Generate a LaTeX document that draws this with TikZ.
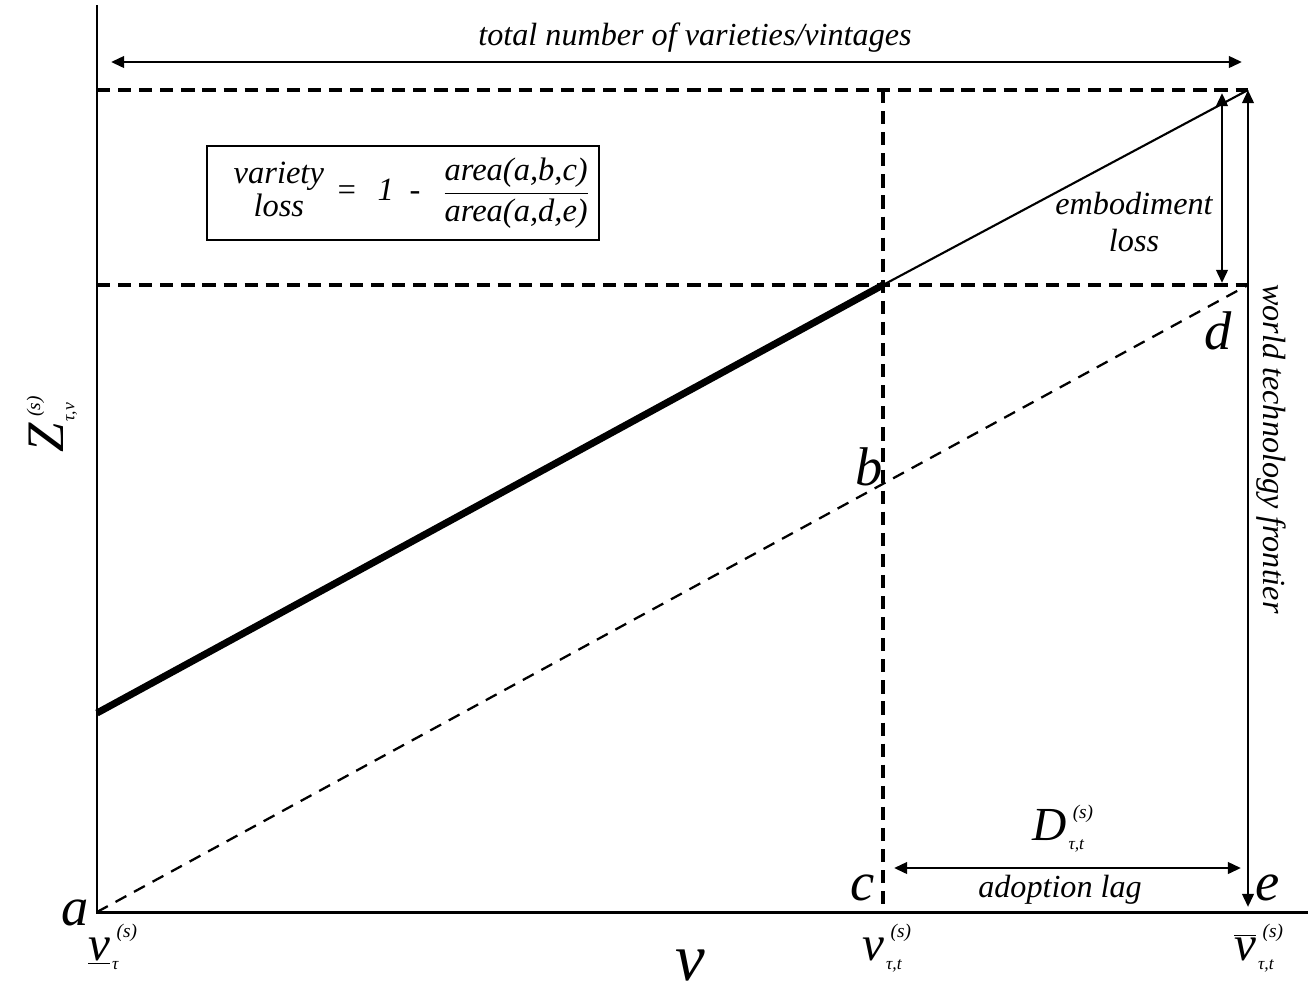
\documentclass[tikz,border=0pt]{standalone}
\usepackage{fontspec}
\setmainfont{Liberation Serif}
\usetikzlibrary{arrows.meta}
% stacked super- and subscript for the text-mode symbols
\newcommand{\supsub}[2]{\makebox[0pt][l]{\kern0.13em\raisebox{0.45em}{\fontsize{11}{11}\selectfont #1}}\kern0.04em\raisebox{-0.2em}{\fontsize{10}{10}\selectfont #2}}
\begin{document}
\begin{tikzpicture}[x=0.02cm, y=-0.02cm,
    axis/.style = {line width=1.7pt},
    guide/.style = {line width=1.8pt, dash pattern=on 7.5pt off 4.5pt},
    tip/.style = {line width=1.6pt, {Triangle[length=7.5pt,width=6.5pt]}-{Triangle[length=7.5pt,width=6.5pt]}},
    txt/.style = {font=\fontsize{18.3}{21}\selectfont\itshape, inner sep=0pt},
    pt/.style = {font=\fontsize{31}{31}\selectfont\itshape, inner sep=0pt, anchor=base},
    sym/.style = {font=\fontsize{28}{28}\selectfont\itshape, inner sep=0pt, anchor=base}]
    \useasboundingbox (0,0) rectangle (1312,992);
    % corners of the diagram
    \coordinate (a) at (97,912);
    \coordinate (ytop) at (97,5);
    \coordinate (xend) at (1308,912);
    \coordinate (c) at (883,912);
    \coordinate (ctop) at (883,90);
    \coordinate (k) at (883,285);
    \coordinate (topl) at (97,90);
    \coordinate (topr) at (1248,90);
    \coordinate (midl) at (97,285);
    \coordinate (d) at (1248,285);
    \coordinate (z0) at (97,713);
    \coordinate (etip) at (1248,907);
    \coordinate (el) at (1222,93);
    \coordinate (eb) at (1222,283);
    \coordinate (tl) at (111,62);
    \coordinate (tr) at (1242,62);
    \coordinate (ll) at (894,868);
    \coordinate (lr) at (1241,868);
    % lines
    \draw[guide] (topl) -- (topr);
    \draw[guide] (midl) -- (d);
    \draw[guide] (ctop) -- (c);
    \draw[line width=1.3pt, dash pattern=on 7pt off 5pt] (a) -- (d);
    \draw[line width=4pt] (z0) -- (k);
    \draw[line width=1.2pt] (k) -- (topr);
    \draw[axis] (ytop) -- (a) -- (xend);
    \draw[tip] (etip) -- (topr);
    \draw[tip] (el) -- (eb);
    \draw[tip] (tl) -- (tr);
    \draw[tip] (ll) -- (lr);
    % labels
    \node[txt, anchor=base] (total) at (695,45) {total number of varieties/vintages};
    \node[draw, line width=0.7pt, minimum width=7.84cm, minimum height=1.88cm, inner sep=0pt,
        font=\fontsize{18.5}{19}\selectfont\itshape] (formula) at (403,193)
        {\hspace*{10pt}\begin{tabular}{@{}c@{}}variety\\[0pt]loss\end{tabular}\hspace{0.36em}=\hspace{0.62em}1\hspace{0.48em}-\hspace{0.68em}$\displaystyle\frac{\textit{area(a,b,c)}}{\textit{area(a,d,e)}\rule{0pt}{14pt}}$};
    \node[txt, align=center] (emb) at (1134,222) {embodiment\\loss};
    \node[txt, rotate=-90] (frontier) at (1271,449) {world technology frontier};
    \node[txt, anchor=base] (lag) at (1060,897) {adoption lag};
    \node[pt] (la) at (75,925) {a};
    \node[pt] (lb) at (869,485) {b};
    \node[pt] (lc) at (863,900) {c};
    \node[pt] (ld) at (1218,349) {d};
    \node[pt] (le) at (1268,900) {e};
    \node[font=\fontsize{27}{27}\selectfont\itshape, inner sep=0pt, anchor=base west] (lagD) at (1032,840) {D\supsub{(s)}{τ,t}};
    \node[sym, anchor=base west] (vlow) at (88,960) {\underline{v}\supsub{(s)}{τ}};
    \node[sym, anchor=base west] (vmid) at (862,960) {v\supsub{(s)}{τ,t}};
    \node[sym, anchor=base west] (vtop) at (1234,960) {$\overline{\mbox{\itshape v}}$\supsub{(s)}{τ,t}};
    \node[font=\fontsize{38}{38}\selectfont\itshape, inner sep=0pt, anchor=base] (vaxis) at (690,980) {v};
    \node[font=\fontsize{30}{30}\selectfont\itshape, inner sep=0pt, rotate=90] (zaxis) at (52,428) {Z\supsub{(s)}{τ,v}};
\end{tikzpicture}
\end{document}
